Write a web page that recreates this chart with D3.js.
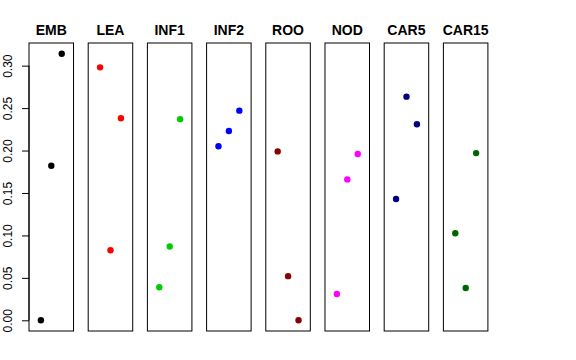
<!DOCTYPE html>
<html><head><meta charset="utf-8">
<script src="https://cdn.jsdelivr.net/npm/d3@7"></script>
<style>body{margin:0;background:#fff}svg{display:block}</style>
</head><body><div id="chart"></div>
<script>
const categories = ["EMB","LEA","INF1","INF2","ROO","NOD","CAR5","CAR15"];
const colors = ["#000000","#FF0000","#00CD00","#0000FF","#8B0000","#FF00FF","#000080","#006400"];
// three values per category, in left-to-right order (positions 1,2,3)
const valuesEMB   = [0.000, 0.182, 0.314];
const valuesLEA   = [0.298, 0.0825, 0.238];
const valuesINF1  = [0.039, 0.087, 0.237];
const valuesINF2  = [0.205, 0.223, 0.247];
const valuesROO   = [0.199, 0.052, 0.000];
const valuesNOD   = [0.031, 0.166, 0.196];
const valuesCAR5  = [0.143, 0.2635, 0.231];
const valuesCAR15 = [0.1025, 0.038, 0.197];
const allValues = [valuesEMB, valuesLEA, valuesINF1, valuesINF2, valuesROO, valuesNOD, valuesCAR5, valuesCAR15];
const yTicks = [0.00, 0.05, 0.10, 0.15, 0.20, 0.25, 0.30];

(function () {
const W = 576, H = 360;
const svg = d3.select("#chart").append("svg").attr("width", W).attr("height", H);

const pTop = 43, pBottom = 331;
const y = d3.scaleLinear().domain([-0.0126, 0.3267]).range([pBottom, pTop]);
const panel = d3.scaleBand().domain(categories).range([29, 487.9]).paddingInner(0.248).paddingOuter(0);
const inner = d3.scaleLinear().domain([-0.14, 4.13]).range([0, panel.bandwidth()]);

categories.forEach((c, i) => {
  const g = svg.append("g").attr("transform", `translate(${panel(c)},0)`);
  g.append("rect").attr("x", 0).attr("y", pTop).attr("width", panel.bandwidth()).attr("height", pBottom - pTop)
    .attr("fill", "none").attr("stroke", "#000").attr("stroke-width", 1);
  g.append("text").attr("x", panel.bandwidth() / 2).attr("y", 34.5).attr("text-anchor", "middle")
    .attr("font-family", "Liberation Sans, Arial, sans-serif").attr("font-weight", "bold").attr("font-size", 14)
    .attr("fill", "#000").text(c);
  g.selectAll("circle").data(allValues[i]).enter().append("circle")
    .attr("cx", (d, j) => inner(j + 1)).attr("cy", d => y(d)).attr("r", 3.2)
    .attr("fill", colors[i]);
});

// y axis on the first panel
const axis = d3.axisLeft(y).tickValues(yTicks).tickFormat(d3.format(".2f")).tickSize(7).tickPadding(0);
const ag = svg.append("g").attr("transform", `translate(${panel(categories[0])},0)`).call(axis);
ag.select(".domain").attr("d", `M0,${y(0)}V${y(0.30)}`).attr("stroke", "#000");
ag.selectAll(".tick line").attr("stroke", "#000");
ag.selectAll(".tick text")
  .attr("font-family", "Liberation Sans, Arial, sans-serif").attr("font-size", 12).attr("fill", "#000")
  .attr("transform", "rotate(-90)").attr("x", 0).attr("y", -17).attr("dy", 0)
  .attr("text-anchor", "middle");
})();
</script>
</body></html>
